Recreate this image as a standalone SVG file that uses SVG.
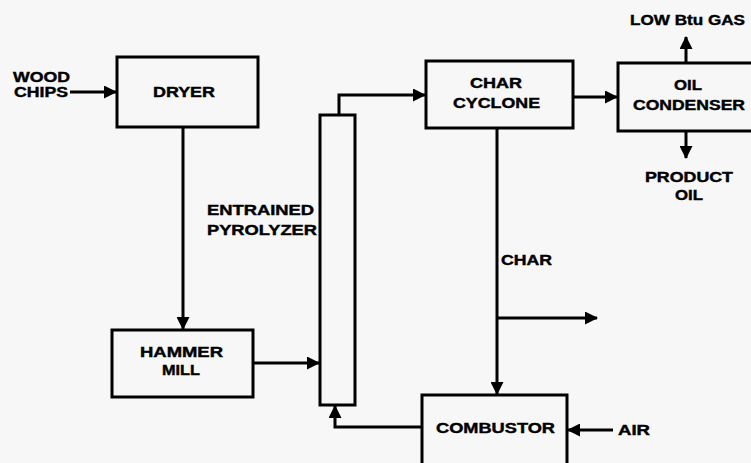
<svg xmlns="http://www.w3.org/2000/svg" width="751" height="463" viewBox="0 0 751 463">
<defs>
<marker id="ah" viewBox="0 0 13 13" refX="12" refY="6.5" markerWidth="13" markerHeight="13" markerUnits="userSpaceOnUse" orient="auto">
<path d="M0,0 L13,6.5 L0,13 Z" fill="#000"/>
</marker>
</defs>
<style>
.box{fill:none;stroke:#000;stroke-width:3}
.ln{fill:none;stroke:#000;stroke-width:3;marker-end:url(#ah)}
text{font-family:"Liberation Sans",Arial,sans-serif;font-weight:bold;font-size:14px;fill:#000;stroke:#000;stroke-width:0.4}
</style>
<rect width="751" height="463" fill="#f7f7f7"/>
<g id="connectors">
<path class="ln" d="M70,92 L116,92"/>
<path class="ln" d="M183,127 L183,329"/>
<path class="ln" d="M253,363 L319,363"/>
<path class="ln" d="M339,115 L339,95 L425,95"/>
<path class="ln" d="M573,97 L617,97"/>
<path class="ln" d="M686,63 L686,37"/>
<path class="ln" d="M686,131 L686,158"/>
<path class="ln" d="M497,128 L497,394"/>
<path class="ln" d="M497,318 L597,318"/>
<path class="ln" d="M613,430 L568,430"/>
<path class="ln" d="M422,427 L335,427 L335,406"/>
</g>
<g id="wood-chips">
<text x="13" y="82" textLength="57" lengthAdjust="spacingAndGlyphs">WOOD</text>
<text x="14" y="97" textLength="54" lengthAdjust="spacingAndGlyphs">CHIPS</text>
</g>
<g id="dryer">
<rect class="box" x="117" y="57" width="141" height="70"/>
<text x="153" y="97" textLength="62" lengthAdjust="spacingAndGlyphs">DRYER</text>
</g>
<g id="hammer-mill">
<rect class="box" x="112" y="330" width="141" height="67"/>
<text x="140" y="357" textLength="83" lengthAdjust="spacingAndGlyphs">HAMMER</text>
<text x="162" y="375" textLength="38" lengthAdjust="spacingAndGlyphs">MILL</text>
</g>
<g id="pyrolyzer">
<rect class="box" x="320" y="115" width="35" height="290"/>
<text x="207" y="215" textLength="107" lengthAdjust="spacingAndGlyphs">ENTRAINED</text>
<text x="207" y="235" textLength="110" lengthAdjust="spacingAndGlyphs">PYROLYZER</text>
</g>
<g id="char-cyclone">
<rect class="box" x="426" y="61" width="147" height="67"/>
<text x="470" y="88" textLength="52" lengthAdjust="spacingAndGlyphs">CHAR</text>
<text x="453" y="108" textLength="87" lengthAdjust="spacingAndGlyphs">CYCLONE</text>
</g>
<g id="oil-condenser">
<rect class="box" x="618" y="63" width="145" height="68"/>
<text x="674" y="90" textLength="28" lengthAdjust="spacingAndGlyphs">OIL</text>
<text x="633" y="110" textLength="112" lengthAdjust="spacingAndGlyphs">CONDENSER</text>
</g>
<g id="low-btu-gas">
<text x="630" y="25" textLength="115" lengthAdjust="spacingAndGlyphs">LOW Btu GAS</text>
</g>
<g id="product-oil">
<text x="645" y="182" textLength="88" lengthAdjust="spacingAndGlyphs">PRODUCT</text>
<text x="675" y="200" textLength="28" lengthAdjust="spacingAndGlyphs">OIL</text>
</g>
<g id="char-label">
<text x="501" y="265" textLength="51" lengthAdjust="spacingAndGlyphs">CHAR</text>
</g>
<g id="combustor">
<rect class="box" x="422" y="395" width="145" height="80"/>
<text x="436" y="433" textLength="119" lengthAdjust="spacingAndGlyphs">COMBUSTOR</text>
</g>
<g id="air">
<text x="618" y="435" textLength="32" lengthAdjust="spacingAndGlyphs">AIR</text>
</g>
</svg>
